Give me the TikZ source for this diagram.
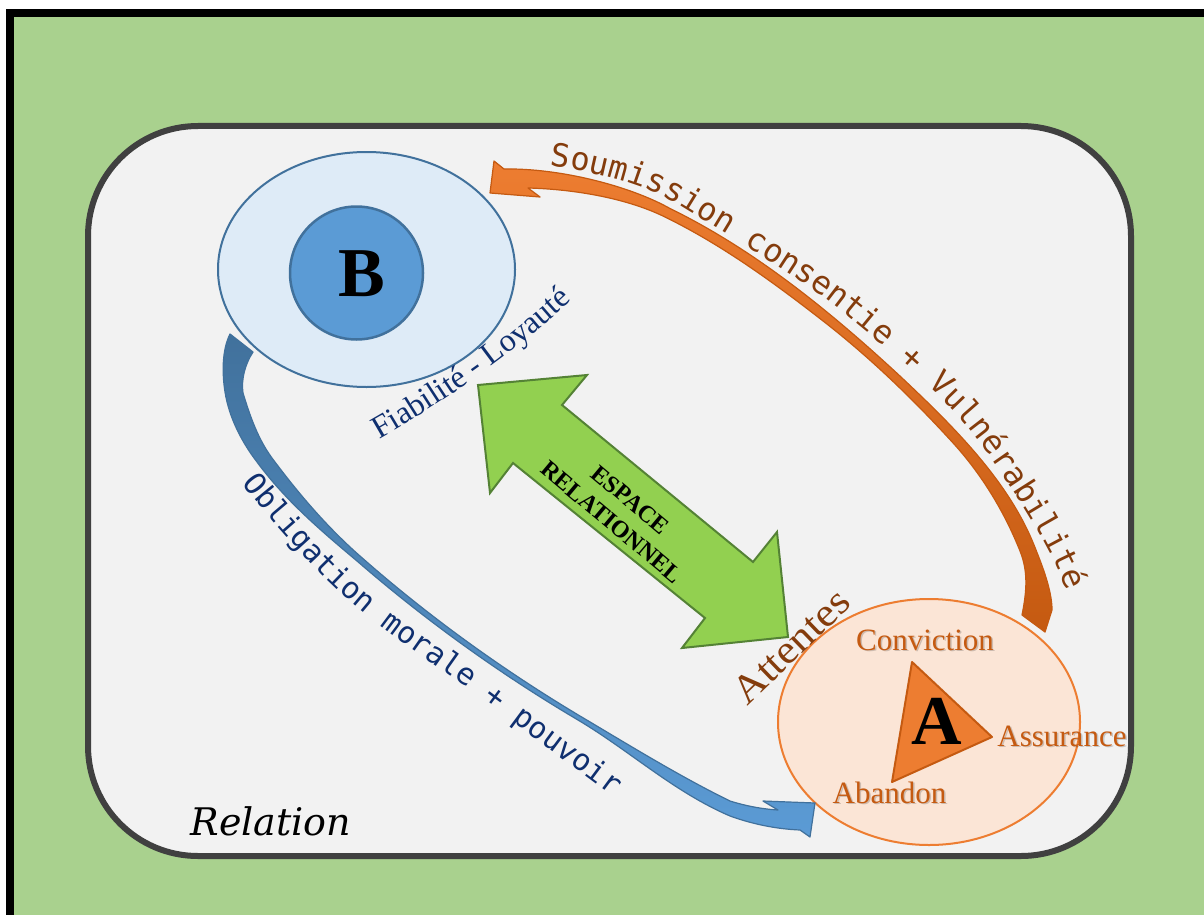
\documentclass[tikz,border=0pt]{standalone}
\usepackage{fontspec}
\setmainfont{Liberation Serif}
\newfontfamily\handfont{DejaVu Sans Mono}
\newfontfamily\relfont{DejaVu Serif}
\usetikzlibrary{shapes.geometric,decorations.text}
\definecolor{bggreen}{HTML}{A9D18E}
\definecolor{panelfill}{HTML}{F2F2F2}
\definecolor{panelline}{HTML}{404040}
\definecolor{bfill}{HTML}{DEEBF7}
\definecolor{bline}{HTML}{41719C}
\definecolor{binner}{HTML}{5B9BD5}
\definecolor{afill}{HTML}{FBE5D6}
\definecolor{aline}{HTML}{ED7D31}
\definecolor{darkorange}{HTML}{C55A11}
\definecolor{bandorange}{HTML}{ED7D31}
\definecolor{obrown}{HTML}{843C0C}
\definecolor{navy}{HTML}{0F2F6F}
\definecolor{greenfill}{HTML}{92D050}
\definecolor{greenline}{HTML}{548235}
\tikzset{
  lbl/.style={inner sep=0pt, text=darkorange, font=\fontsize{15.5}{15.5}\selectfont},
  lblshadow/.style={inner sep=0pt, text=black, opacity=0.18, font=\fontsize{15.5}{15.5}\selectfont},
  bigletter/.style={inner sep=0pt, font=\bfseries\fontsize{35}{35}\selectfont},
}
\begin{document}
\begin{tikzpicture}[x=0.5pt,y=-0.5pt]
\useasboundingbox (0,0) rectangle (1204,915);
\fill[white] (0,0) rectangle (1204,915);
\fill[black] (6,9) rectangle (1204,915);
\fill[bggreen] (14,17) rectangle (1204,915);

% panel
\draw[line width=3pt, draw=panelline, fill=panelfill, rounded corners=55pt] (88,126) rectangle (1131,856);

% B
\node[ellipse, draw=bline, line width=1pt, fill=bfill, minimum width=148.5pt, minimum height=117.5pt, inner sep=0pt] (Bout) at (366.5,269.5) {};
\node[circle, draw=bline, line width=1.25pt, fill=binner, minimum size=66.5pt, inner sep=0pt] (Bin) at (356.5,273) {};
\node[bigletter] (Blab) at (362,273.5) {B};

% A
\node[ellipse, draw=aline, line width=1pt, fill=afill, minimum width=151pt, minimum height=123pt, inner sep=0pt] (Aout) at (929,722) {};
\coordinate (t1) at (912,662);
\coordinate (t2) at (992,737);
\coordinate (t3) at (892,782);
\draw[draw=darkorange, line width=1pt, fill=aline, line join=round] (t1) -- (t2) -- (t3) -- cycle;
\node[bigletter] (Alab) at (936.5,721.5) {A};

\node[lblshadow, anchor=base] at (926.5,651.5) {Conviction};
\node[lbl, anchor=base] (conv) at (925,650) {Conviction};
\node[lblshadow, anchor=base west] at (998.5,747.5) {Assurance};
\node[lbl, anchor=base west] (assur) at (997,746) {Assurance};
\node[lblshadow, anchor=base] at (891,804.5) {Abandon};
\node[lbl, anchor=base] (aband) at (889.5,803) {Abandon};

% blue band
\shadedraw[draw=bline, line width=0.6pt, top color=bline, bottom color=binner, line join=round]
 (230,334) -- (253,352)
 .. controls (245,364) and (241,380) .. (243,393)
 .. controls (250,416) and (258,439) .. (272,458)
 .. controls (298,493) and (327,527) .. (360,556)
 .. controls (428,616) and (503,670) .. (580,716)
 .. controls (629,745) and (679,776) .. (730,801)
 .. controls (746,806) and (762,809) .. (778,810)
 -- (763,801) -- (815,803) -- (810,837) -- (800,830)
 .. controls (776,829) and (752,824) .. (730,816)
 .. controls (674,792) and (630,751) .. (578,720)
 .. controls (500,674) and (425,620) .. (357,561)
 .. controls (320,530) and (285,500) .. (257,462)
 .. controls (241,441) and (229,417) .. (225,392)
 .. controls (222,373) and (222,350) .. (230,334)
 -- cycle;

% orange band
\shadedraw[draw=darkorange, line width=0.6pt, top color=bandorange, bottom color=darkorange, line join=round]
 (490,193) -- (494,161) -- (504,169)
 .. controls (560,168) and (630,186) .. (670,208.5)
 .. controls (755,250) and (831,312) .. (901,377)
 .. controls (952,425) and (1008,480) .. (1034,545)
 .. controls (1042,565) and (1052,590) .. (1052,610)
 -- (1045,632) -- (1022,615)
 .. controls (1027,590) and (1028,571) .. (1020,551)
 .. controls (1004.5,512) and (982,475) .. (954,444)
 .. controls (914,400) and (871,358.5) .. (825,322.5)
 .. controls (775,283.5) and (723,245.5) .. (666,217.5)
 .. controls (624,196.5) and (568,189) .. (528,188)
 -- (540,197) -- cycle;

% green double arrow
\draw[draw=greenline, line width=1pt, fill=greenfill, line join=miter]
 (478,385) -- (587,375) -- (562,405) -- (753,562) -- (777,532) -- (788,637)
 -- (682,648) -- (705,618) -- (513,463) -- (490,493) -- cycle;
\node[inner sep=0pt, align=center, rotate=-40, font=\bfseries\fontsize{12}{14.5}\selectfont] (esp) at (621,511) {ESPACE\\RELATIONNEL};

% Attentes
\node[inner sep=0pt, anchor=base west, rotate=44, text=obrown, font=\fontsize{20}{20}\selectfont] (att) at (747,707) {\scalebox{1.1}[1]{Attentes}};

% Fiabilite - Loyaute
\path[decorate, decoration={text along path, text align=center,
  text={|\fontsize{16}{16}\selectfont\color{navy}|Fiabilité - Loyauté}}]
  (374,442) .. controls (440,405) and (520,350) .. (576,296);

% handwritten texts
\path[decorate, decoration={text along path, text align=center,
  text={|\handfont\fontsize{16}{16}\selectfont\color{obrown}|Soumission consentie + Vulnérabilité}}]
  (535,164) .. controls (585,170) and (638,180) .. (680,206)
  .. controls (735,240) and (795,274) .. (840,310)
  .. controls (882,344) and (940,392) .. (970,430)
  .. controls (1000,468) and (1054,548) .. (1072,605);

\path[decorate, decoration={text along path, text align=center,
  text={|\handfont\fontsize{15}{15}\selectfont\color{navy}|Obligation morale + pouvoir}}]
  (238,478) .. controls (266,515) and (310,566) .. (350,601)
  .. controls (390,636) and (430,660) .. (470,690)
  .. controls (520,727) and (568,763) .. (618,800);

% Relation
\node[inner sep=0pt, anchor=base west, font=\relfont\itshape\fontsize{19}{19}\selectfont] (rel) at (190,835) {Relation};
\end{tikzpicture}
\end{document}
